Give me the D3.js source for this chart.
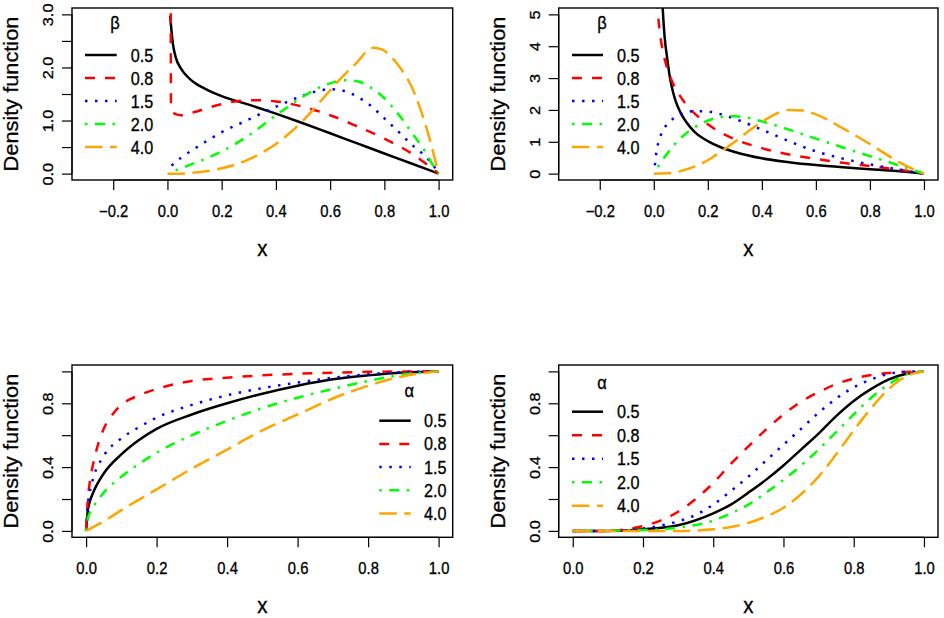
<!DOCTYPE html>
<html><head><meta charset="utf-8">
<script src="https://cdn.jsdelivr.net/npm/d3@7/dist/d3.min.js"></script>
<style>
body{margin:0;background:#fff}
text{font-family:"Liberation Sans",Arial,Helvetica,sans-serif;fill:#000;stroke:#000;stroke-width:0.3px}
</style></head>
<body><svg id="chart" width="944" height="618"></svg>
<script>
// ---------- data ----------
const paramLabels = ["0.5", "0.8", "1.5", "2.0", "4.0"];
const seriesColors = ["#000000", "#ff0000", "#0000ff", "#00ff00", "#ffa500"];
const seriesDash = [null, "10,10", "2.5,7.5", "2.5,7.5,10,7.5", "17.5,7.5"];

// top-left panel: density, beta varies
const tlBeta05 = [[0.01,2.97],[0.02,2.45],[0.03,2.2],[0.05,1.98],[0.075,1.82],[0.1,1.71],[0.15,1.57],[0.2,1.46],[0.3,1.3],[0.4,1.13],[0.5,0.95],[0.6,0.76],[0.7,0.57],[0.8,0.38],[0.9,0.19],[1.0,0.0]];
const tlBeta08 = [[0.012,3.4],[0.013,1.25],[0.03,1.12],[0.05,1.1],[0.1,1.16],[0.15,1.24],[0.2,1.31],[0.25,1.36],[0.3,1.38],[0.35,1.38],[0.4,1.36],[0.5,1.26],[0.6,1.1],[0.7,0.89],[0.8,0.66],[0.9,0.38],[0.95,0.2],[1.0,0.0]];
const tlBeta15 = [[0.015,0.15],[0.05,0.3],[0.1,0.47],[0.2,0.78],[0.3,1.02],[0.37,1.19],[0.45,1.37],[0.5,1.47],[0.55,1.55],[0.6,1.59],[0.65,1.56],[0.7,1.45],[0.75,1.28],[0.8,1.04],[0.85,0.8],[0.9,0.55],[0.95,0.33],[0.98,0.16],[1.0,0.0]];
const tlBeta20 = [[0.03,0.06],[0.05,0.1],[0.1,0.2],[0.15,0.3],[0.2,0.42],[0.3,0.72],[0.4,1.1],[0.5,1.45],[0.55,1.6],[0.6,1.7],[0.65,1.76],[0.7,1.74],[0.75,1.62],[0.8,1.42],[0.85,1.13],[0.9,0.78],[0.95,0.42],[0.98,0.15],[1.0,0.0]];
const tlBeta40 = [[0.0,0.0],[0.05,0.0],[0.1,0.02],[0.15,0.05],[0.2,0.1],[0.25,0.17],[0.3,0.27],[0.35,0.4],[0.4,0.56],[0.45,0.76],[0.5,1.0],[0.55,1.28],[0.6,1.57],[0.65,1.85],[0.7,2.1],[0.74,2.33],[0.76,2.37],[0.79,2.34],[0.85,2.05],[0.9,1.64],[0.95,0.95],[1.0,0.0]];

// top-right panel: density, beta varies
const trBeta05 = [[0.03,5.6],[0.035,4.9],[0.04,4.3],[0.05,3.6],[0.06,3.0],[0.07,2.6],[0.08,2.3],[0.1,1.9],[0.12,1.62],[0.15,1.32],[0.2,1.02],[0.25,0.82],[0.3,0.68],[0.4,0.48],[0.5,0.36],[0.6,0.27],[0.7,0.2],[0.8,0.14],[0.9,0.08],[1.0,0.0]];
const trBeta08 = [[0.01,5.5],[0.02,4.6],[0.03,4.0],[0.04,3.6],[0.05,3.3],[0.07,2.85],[0.1,2.4],[0.15,1.9],[0.2,1.55],[0.25,1.28],[0.3,1.08],[0.4,0.8],[0.5,0.6],[0.6,0.46],[0.7,0.34],[0.8,0.24],[0.9,0.13],[1.0,0.0]];
const trBeta15 = [[0.004,0.26],[0.01,0.7],[0.02,1.05],[0.03,1.3],[0.05,1.55],[0.075,1.75],[0.1,1.87],[0.15,1.96],[0.2,1.95],[0.25,1.86],[0.3,1.72],[0.4,1.38],[0.5,1.02],[0.6,0.7],[0.7,0.47],[0.8,0.29],[0.9,0.14],[1.0,0.0]];
const trBeta20 = [[0.015,0.21],[0.03,0.4],[0.05,0.63],[0.075,0.9],[0.1,1.12],[0.15,1.45],[0.2,1.66],[0.25,1.78],[0.3,1.8],[0.35,1.75],[0.4,1.64],[0.5,1.38],[0.6,1.1],[0.7,0.82],[0.8,0.55],[0.9,0.28],[0.95,0.14],[1.0,0.0]];
const trBeta40 = [[0.0,0.0],[0.05,0.01],[0.1,0.08],[0.15,0.22],[0.2,0.42],[0.25,0.7],[0.3,1.0],[0.35,1.33],[0.4,1.62],[0.45,1.87],[0.5,2.0],[0.55,1.98],[0.6,1.86],[0.7,1.42],[0.8,0.93],[0.9,0.4],[0.95,0.18],[1.0,0.0]];

// bottom-left panel: alpha varies
const blAlpha05 = [[0,0],[0.005,0.13],[0.01,0.18],[0.02,0.24],[0.05,0.36],[0.1,0.48],[0.15,0.57],[0.2,0.64],[0.3,0.73],[0.4,0.8],[0.5,0.86],[0.6,0.91],[0.7,0.95],[0.8,0.975],[0.9,0.993],[1.0,1.0]];
const blAlpha08 = [[0,0],[0.005,0.2],[0.01,0.3],[0.02,0.42],[0.035,0.55],[0.05,0.64],[0.075,0.73],[0.1,0.79],[0.15,0.85],[0.2,0.89],[0.3,0.94],[0.4,0.96],[0.5,0.975],[0.6,0.985],[0.7,0.992],[0.8,0.997],[1.0,1.0]];
const blAlpha15 = [[0,0],[0.005,0.17],[0.01,0.24],[0.02,0.33],[0.05,0.47],[0.1,0.58],[0.15,0.65],[0.2,0.71],[0.3,0.79],[0.4,0.85],[0.5,0.895],[0.6,0.93],[0.7,0.96],[0.8,0.982],[0.9,0.995],[1.0,1.0]];
const blAlpha20 = [[0,0],[0.005,0.08],[0.01,0.11],[0.02,0.15],[0.05,0.24],[0.1,0.34],[0.15,0.42],[0.2,0.49],[0.3,0.6],[0.4,0.69],[0.5,0.77],[0.6,0.835],[0.7,0.89],[0.8,0.94],[0.9,0.98],[1.0,1.0]];
const blAlpha40 = [[0,0],[0.05,0.06],[0.1,0.13],[0.2,0.26],[0.3,0.39],[0.4,0.51],[0.5,0.63],[0.6,0.73],[0.7,0.83],[0.8,0.91],[0.9,0.97],[1.0,1.0]];

// bottom-right panel: alpha varies
const brAlpha05 = [[0,0],[0.1,0.0],[0.2,0.01],[0.3,0.035],[0.4,0.11],[0.45,0.165],[0.5,0.24],[0.55,0.32],[0.6,0.41],[0.65,0.51],[0.7,0.61],[0.75,0.72],[0.8,0.815],[0.85,0.89],[0.9,0.95],[0.95,0.985],[1.0,1.0]];
const brAlpha08 = [[0,0],[0.1,0.0],[0.15,0.01],[0.2,0.03],[0.25,0.065],[0.3,0.12],[0.35,0.2],[0.4,0.3],[0.45,0.42],[0.5,0.53],[0.55,0.635],[0.6,0.73],[0.65,0.81],[0.7,0.87],[0.75,0.92],[0.8,0.955],[0.9,0.99],[1.0,1.0]];
const brAlpha15 = [[0,0],[0.1,0.0],[0.2,0.015],[0.3,0.06],[0.35,0.1],[0.4,0.165],[0.45,0.25],[0.5,0.34],[0.55,0.44],[0.6,0.54],[0.65,0.64],[0.7,0.74],[0.75,0.83],[0.8,0.9],[0.85,0.95],[0.9,0.985],[0.95,0.998],[1.0,1.0]];
const brAlpha20 = [[0,0],[0.2,0.005],[0.3,0.02],[0.4,0.065],[0.45,0.11],[0.5,0.165],[0.55,0.24],[0.6,0.32],[0.65,0.41],[0.7,0.51],[0.75,0.62],[0.8,0.73],[0.85,0.835],[0.9,0.92],[0.95,0.98],[1.0,1.0]];
const brAlpha40 = [[0,0],[0.3,0.0],[0.4,0.01],[0.45,0.025],[0.5,0.05],[0.55,0.09],[0.6,0.145],[0.65,0.23],[0.7,0.34],[0.75,0.48],[0.8,0.63],[0.85,0.77],[0.9,0.89],[0.95,0.97],[1.0,1.0]];

// tick values / labels
const xTicksTop = [-0.2, 0.0, 0.2, 0.4, 0.6, 0.8, 1.0];
const xTicksBottom = [0.0, 0.2, 0.4, 0.6, 0.8, 1.0];
const yTicksTL = [0, 0.5, 1, 1.5, 2, 2.5, 3];
const yLabelsTL = ["0.0", "", "1.0", "", "2.0", "", "3.0"];
const yTicksTR = [0, 1, 2, 3, 4, 5];
const yLabelsTR = ["0", "1", "2", "3", "4", "5"];
const yTicksCdf = [0, 0.2, 0.4, 0.6, 0.8, 1.0];
const yLabelsCdf = ["0.0", "", "0.4", "", "0.8", ""];

// ---------- layout ----------
const svg = d3.select("#chart");
const SY = 1.1; // glyphs in the reference are slightly taller than wide
const fmtX = d => (d < 0 ? "\u2212" : "") + Math.abs(d).toFixed(1);

const panels = [
  {id:"tl", box:[72,452.7,8,180], xlim:[-0.3,1.0], ylim:[0,3], xt:xTicksTop, yt:yTicksTL, yl:yLabelsTL,
   series:[tlBeta05,tlBeta08,tlBeta15,tlBeta20,tlBeta40], leg:{title:"\u03b2", tx:43, ty:20.5, lx0:13, lx1:44.7, labx:58.7, row0:47, dy:23}},
  {id:"tr", box:[558.7,938,8,180], xlim:[-0.3,1.0], ylim:[0,5], xt:xTicksTop, yt:yTicksTR, yl:yLabelsTR,
   series:[trBeta05,trBeta08,trBeta15,trBeta20,trBeta40], leg:{title:"\u03b2", tx:43.3, ty:20.5, lx0:13.3, lx1:44.3, labx:58.3, row0:47, dy:23}},
  {id:"bl", box:[72,452.7,365,537.3], xlim:[0,1], ylim:[0,1], xt:xTicksBottom, yt:yTicksCdf, yl:yLabelsCdf,
   series:[blAlpha05,blAlpha08,blAlpha15,blAlpha20,blAlpha40], leg:{title:"\u03b1", tx:337.3, ty:31.7, lx0:307.3, lx1:338.7, labx:352, row0:55.7, dy:23.2}},
  {id:"br", box:[558.7,938,365,537.3], xlim:[0,1], ylim:[0,1], xt:xTicksBottom, yt:yTicksCdf, yl:yLabelsCdf,
   series:[brAlpha05,brAlpha08,brAlpha15,brAlpha20,brAlpha40], leg:{title:"\u03b1", tx:43.3, ty:24.3, lx0:13.3, lx1:44.3, labx:58.3, row0:46.7, dy:23.5}}
];

const ext = (lim) => { const r = lim[1]-lim[0]; return [lim[0]-0.04*r, lim[1]+0.04*r]; };

function label(sel, x, y, txt, size, anchor, rotate) {
  return sel.append("text")
    .attr("transform", `translate(${x},${y}) scale(1,${SY})` + (rotate ? " rotate(-90)" : ""))
    .attr("text-anchor", anchor).attr("font-size", size).text(txt);
}

panels.forEach(p => {
  const [x0,x1,y0,y1] = p.box;
  const x = d3.scaleLinear().domain(ext(p.xlim)).range([x0,x1]);
  const y = d3.scaleLinear().domain(ext(p.ylim)).range([y1,y0]);
  const g = svg.append("g");

  const clipId = "clip-"+p.id;
  svg.append("defs").append("clipPath").attr("id",clipId)
    .append("rect").attr("x",x0).attr("y",y0).attr("width",x1-x0).attr("height",y1-y0);

  const line = d3.line().x(d=>x(d[0])).y(d=>y(d[1])).curve(d3.curveMonotoneX);
  const lines = g.append("g").attr("clip-path",`url(#${clipId})`);
  p.series.forEach((s,i) => {
    lines.append("path").datum(s).attr("d",line)
      .attr("fill","none").attr("stroke",seriesColors[i]).attr("stroke-width",2.5)
      .attr("stroke-dasharray",seriesDash[i]).attr("stroke-linejoin","round");
  });

  // box
  g.append("rect").attr("x",x0).attr("y",y0).attr("width",x1-x0).attr("height",y1-y0)
    .attr("fill","none").attr("stroke","#000").attr("stroke-width",1.4);

  // x axis
  const xa = g.append("g").attr("transform",`translate(0,${y1})`)
    .call(d3.axisBottom(x).tickValues(p.xt).tickSize(10).tickFormat(fmtX));
  xa.select(".domain").remove();
  xa.append("line").attr("x1",x(p.xt[0])).attr("x2",x(p.xt[p.xt.length-1])).attr("stroke","#000").attr("stroke-width",1.2);
  xa.selectAll(".tick line").attr("stroke","#000").attr("stroke-width",1.2);
  xa.selectAll(".tick text").attr("font-size",14.8).attr("font-family","Liberation Sans, Arial, sans-serif").attr("fill","#000")
    .attr("y",null).attr("dy",null).attr("transform",`translate(0,37) scale(1,${SY})`);

  // y axis
  const ya = g.append("g").attr("transform",`translate(${x0},0)`)
    .call(d3.axisLeft(y).tickValues(p.yt).tickSize(10).tickFormat((d,i)=>p.yl[i]));
  ya.select(".domain").remove();
  ya.append("line").attr("y1",y(p.yt[0])).attr("y2",y(p.yt[p.yt.length-1])).attr("stroke","#000").attr("stroke-width",1.2);
  ya.selectAll(".tick line").attr("stroke","#000").attr("stroke-width",1.2);
  ya.selectAll(".tick text").attr("font-size",14.8).attr("font-family","Liberation Sans, Arial, sans-serif").attr("fill","#000")
    .attr("x",null).attr("dy",null).attr("text-anchor","middle").attr("transform",`translate(-18.6,0) scale(1,${SY}) rotate(-90)`);

  // axis titles
  label(g, (x0+x1)/2, y1+75.5, "x", 20.5, "middle", false);
  label(g, x0-54, (y0+y1)/2, "Density function", 19.8, "middle", true);

  // legend
  const L = p.leg;
  const lg = g.append("g").attr("transform",`translate(${x0},${y0})`);
  label(lg, L.tx, L.ty, L.title, 16.5, "middle", false);
  paramLabels.forEach((lab,i) => {
    const yy = L.row0 + i*L.dy;
    lg.append("line").attr("x1",L.lx0).attr("x2",L.lx1).attr("y1",yy).attr("y2",yy)
      .attr("stroke",seriesColors[i]).attr("stroke-width",2.5).attr("stroke-dasharray",seriesDash[i]);
    label(lg, L.labx, yy+6.5, lab, 16.2, "start", false);
  });
});
</script></body></html>
